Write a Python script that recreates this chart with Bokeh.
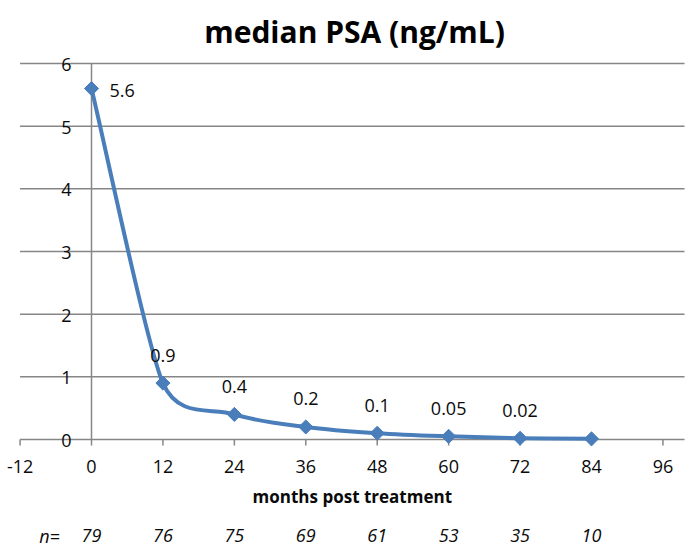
import numpy as np
from bokeh.plotting import figure
from bokeh.models import Range1d, ColumnDataSource
from bokeh.embed import file_html
from bokeh.resources import INLINE
from bokeh.core.properties import value

# ---------------- data ----------------
months = [0, 12, 24, 36, 48, 60, 72, 84]
median_psa = [5.6, 0.9, 0.4, 0.2, 0.1, 0.05, 0.02, 0.01]
psa_labels = ["5.6", "0.9", "0.4", "0.2", "0.1", "0.05", "0.02", ""]
n_patients = ["79", "76", "75", "69", "61", "53", "35", "10"]
x_ticks = [-12, 0, 12, 24, 36, 48, 60, 72, 84, 96]
y_ticks = [0, 1, 2, 3, 4, 5, 6]
title_text = "median PSA (ng/mL)"
x_title = "months post treatment"
n_prefix = "n="

# ---------------- style / layout ----------------
FONT = "Open Sans"
BLUE = "#4A7EBB"
GRID = "#868686"
TXT = "#0a0a0a"

W, H = 690, 548
PX0, PY0 = 91.0, 439.0        # canvas position of the data origin
KX = 500.0 / 84.0             # px per month
KY = 376.0 / 6.0              # px per ng/mL
X_END = 99.63                 # right end of plot area (data units)


def xd(px):
    return (px - PX0) / KX


def yd(py):
    return (PY0 - py) / KY


p = figure(width=W, height=H, output_backend="svg", toolbar_location=None,
           x_range=Range1d(xd(0), xd(W)), y_range=Range1d(yd(H), yd(0)),
           x_axis_location=None, y_axis_location=None,
           min_border=0, min_border_left=0, min_border_right=0,
           min_border_top=0, min_border_bottom=0, outline_line_color=None,
           background_fill_color="white", border_fill_color="white")
p.title.visible = False
p.grid.visible = False

x_lo = x_ticks[0]
y_hi = y_ticks[-1]

# horizontal gridlines
gy = y_ticks[1:]
p.segment(x0=[x_lo] * len(gy), y0=gy, x1=[X_END] * len(gy), y1=gy,
          line_color=GRID, line_width=1.5)
# x axis line
p.segment(x0=[x_lo], y0=[0], x1=[X_END], y1=[0], line_color=GRID, line_width=1.5)
# y axis line at x = 0
p.segment(x0=[0], y0=[0], x1=[0], y1=[y_hi], line_color=GRID, line_width=1.5)
# x tick marks (outside, below)
tick_len = 6.0 / KY
p.segment(x0=x_ticks, y0=[0] * len(x_ticks), x1=x_ticks,
          y1=[-tick_len] * len(x_ticks), line_color=GRID, line_width=1.5)

# x tick labels
p.text(x=x_ticks, y=[0] * len(x_ticks), text=[str(v) for v in x_ticks],
       y_offset=27, text_align="center", text_baseline="middle",
       text_font=value(FONT), text_font_size="18px", text_color=TXT)
# y tick labels
p.text(x=[0] * len(y_ticks), y=y_ticks, text=[str(v) for v in y_ticks],
       x_offset=-20, y_offset=1, text_align="right", text_baseline="middle",
       text_font=value(FONT), text_font_size="18px", text_color=TXT)
# x axis title
p.text(x=[(x_lo + X_END) / 2], y=[0], text=[x_title], y_offset=57,
       text_align="center", text_baseline="middle", text_font=value(FONT),
       text_font_size="17px", text_font_style="bold", text_color=TXT)

# smoothed line (Excel-style bezier, computed in screen proportions)
P = np.column_stack([np.array(months, float) * KX, np.array(median_psa, float) * KY])
n = len(P)
tang = []
for i in range(n):
    prev = P[i - 1] if i > 0 else P[i]
    nxt = P[i + 1] if i < n - 1 else P[i]
    v = (nxt - prev) / 6.0
    lim = []
    if i > 0:
        lim.append(np.linalg.norm(P[i] - P[i - 1]) / 2)
    if i < n - 1:
        lim.append(np.linalg.norm(P[i + 1] - P[i]) / 2)
    L = np.linalg.norm(v)
    m = min(lim)
    if L > m:
        v = v * m / L
    tang.append(v)
tang = np.array(tang)
C0 = P[:-1] + tang[:-1]
C1 = P[1:] - tang[1:]
bz = ColumnDataSource(dict(
    x0=P[:-1, 0] / KX, y0=P[:-1, 1] / KY, x1=P[1:, 0] / KX, y1=P[1:, 1] / KY,
    cx0=C0[:, 0] / KX, cy0=C0[:, 1] / KY, cx1=C1[:, 0] / KX, cy1=C1[:, 1] / KY))
p.bezier(x0="x0", y0="y0", x1="x1", y1="y1", cx0="cx0", cy0="cy0",
         cx1="cx1", cy1="cy1", source=bz, line_color=BLUE, line_width=4,
         line_cap="round")

# markers (diamonds)
p.scatter(months, median_psa, marker="square", angle=np.pi / 4, size=10,
          fill_color=BLUE, line_color=BLUE, line_width=1)

# data labels
p.text(x=months[:1], y=median_psa[:1], text=psa_labels[:1], x_offset=18,
       y_offset=2, text_align="left", text_baseline="middle",
       text_font=value(FONT), text_font_size="18px", text_color=TXT)
p.text(x=months[1:], y=median_psa[1:], text=psa_labels[1:], y_offset=-28,
       text_align="center", text_baseline="middle", text_font=value(FONT),
       text_font_size="18px", text_color=TXT)

# n row
p.text(x=months, y=[0] * len(months), text=n_patients, y_offset=96,
       text_align="center", text_baseline="middle", text_font=value(FONT),
       text_font_size="18px", text_font_style="italic", text_color=TXT)
p.text(x=[xd(49)], y=[0], text=[n_prefix], y_offset=96,
       text_align="center", text_baseline="middle", text_font=value(FONT),
       text_font_size="18px", text_font_style="italic", text_color=TXT)

# title
p.text(x=[xd(354)], y=[yd(31)], text=[title_text], text_align="center",
       text_baseline="alphabetic", text_font=value(FONT),
       text_font_size="30px", text_font_style="bold", text_color="black")

open("out.html", "w").write(file_html(p, INLINE))
